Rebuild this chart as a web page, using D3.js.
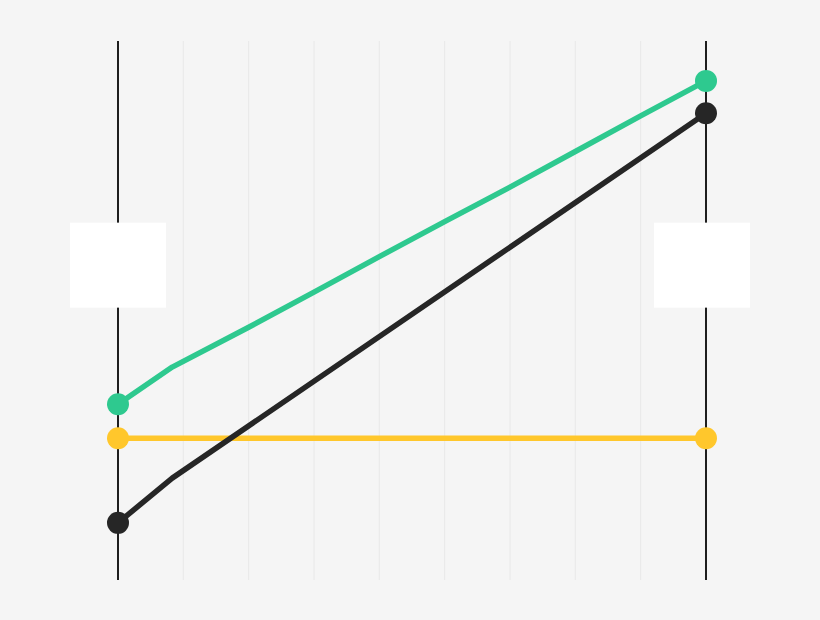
<!DOCTYPE html>
<html>
<head>
<meta charset="utf-8">
<script src="https://cdn.jsdelivr.net/npm/d3@7"></script>
<style>
  html, body { margin: 0; padding: 0; background: #f5f5f5; }
  svg { display: block; }
</style>
</head>
<body>
<div id="chart"></div>
<script>
// x positions of the points (0 = left axis, 9 = right axis)
const greenX = [0, 0.83, 2, 3, 4, 5, 6, 7, 8, 9];
const greenY = [32.6, 39.5, 46.9, 53.4, 60.0, 66.5, 72.9, 79.5, 86.1, 92.6];
const blackX = [0, 0.83, 9];
const blackY = [10.6, 18.9, 86.6];
const yellowX = [0, 9];
const yellowY = [26.3, 26.3];
const gridTicks = [1, 2, 3, 4, 5, 6, 7, 8];
const axisTicks = [0, 9];

const width = 820;
const height = 620;

const x = d3.scaleLinear().domain([0, 9]).range([118, 706]);
const y = d3.scaleLinear().domain([0, 100]).range([580, 41]);

const svg = d3.select('#chart')
	.append('svg')
	.attr('width', width)
	.attr('height', height);

svg.append('rect')
	.attr('width', width)
	.attr('height', height)
	.attr('fill', '#f5f5f5');

// light grid
svg.append('g')
	.selectAll('line')
	.data(gridTicks)
	.join('line')
	.attr('x1', d => x(d)).attr('x2', d => x(d))
	.attr('y1', y(100)).attr('y2', y(0))
	.attr('stroke', '#e8e8e8')
	.attr('stroke-width', 1);

// the two axes
svg.append('g')
	.selectAll('line')
	.data(axisTicks)
	.join('line')
	.attr('x1', d => x(d)).attr('x2', d => x(d))
	.attr('y1', y(100)).attr('y2', y(0))
	.attr('stroke', '#1e1e1e')
	.attr('stroke-width', 2);

// empty label boxes on the axes (right one sits a little to the left)
svg.append('g')
	.selectAll('rect')
	.data(axisTicks)
	.join('rect')
	.attr('x', (d, i) => x(d) - (i === 0 ? 48 : 52))
	.attr('y', y(66.3))
	.attr('width', 96)
	.attr('height', 85)
	.attr('fill', '#ffffff');

const series = [
	{ xs: yellowX, ys: yellowY, color: '#ffc72c' },
	{ xs: blackX, ys: blackY, color: '#262626' },
	{ xs: greenX, ys: greenY, color: '#2ec98f' }
];

const line = d3.line()
	.x(d => x(d[0]))
	.y(d => y(d[1]));

series.forEach(s => {
	const pts = s.xs.map((v, i) => [v, s.ys[i]]);
	svg.append('path')
		.datum(pts)
		.attr('d', line)
		.attr('fill', 'none')
		.attr('stroke', s.color)
		.attr('stroke-width', 5.5)
		.attr('stroke-linejoin', 'round')
		.attr('stroke-linecap', 'round');

	const ends = [pts[0], pts[pts.length - 1]];
	svg.append('g')
		.selectAll('circle')
		.data(ends)
		.join('circle')
		.attr('cx', d => x(d[0]))
		.attr('cy', d => y(d[1]))
		.attr('r', 11)
		.attr('fill', s.color);
});
</script>
</body>
</html>
